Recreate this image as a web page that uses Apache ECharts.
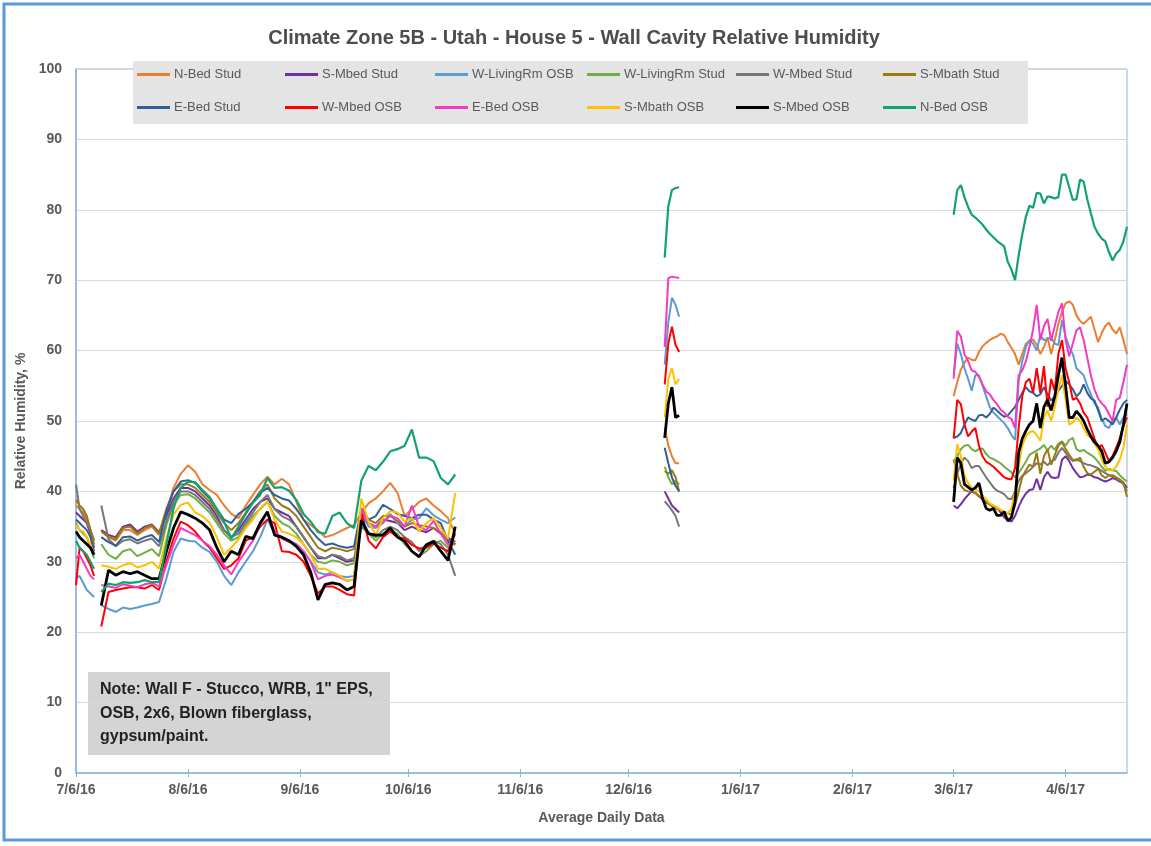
<!DOCTYPE html>
<html>
<head>
<meta charset="utf-8">
<script src="https://cdn.jsdelivr.net/npm/echarts@6/dist/echarts.min.js"></script>
<style>
  html, body { margin: 0; padding: 0; background: #ffffff; }
  #chart { width: 1151px; height: 846px; }
</style>
</head>
<body>
<div id="chart"></div>
<script>
// Logging periods: day offset from 7/6/16 of the first reading, and spacing of readings (days)
const PERIOD_START = [0, 7, 163, 243];
const PERIOD_STEP = [1, 2, 1, 1];

// X-axis tick positions (days from 7/6/16) and their labels
const TICK_DAYS = [0, 31, 62, 92, 123, 153, 184, 215, 243, 274];
const TICK_LABELS = ['7/6/16', '8/6/16', '9/6/16', '10/6/16', '11/6/16', '12/6/16', '1/6/17', '2/6/17', '3/6/17', '4/6/17'];
const LAST_DAY = 291;

const SERIES_NAMES = ['N-Bed Stud', 'S-Mbed Stud', 'W-LivingRm OSB', 'W-LivingRm Stud', 'W-Mbed Stud', 'S-Mbath Stud',
  'E-Bed Stud', 'W-Mbed OSB', 'E-Bed OSB', 'S-Mbath OSB', 'S-Mbed OSB', 'N-Bed OSB'];

// Relative humidity (%) per sensor, one list per logging period
const N_BED_STUD = [
  [38, 37.5, 37, 36, 34.5, 33],
  [34.5, 33.5, 33, 34.5, 34.5, 33.8, 34.5, 35, 33.8, 37, 40.5, 42.5, 43.7, 42.8, 41, 40.2, 39.5, 38, 36.8, 36.2, 38, 39.5, 41, 42.1, 41, 41.8, 41, 38.5, 36, 35.2, 34.5, 33.5, 33.8, 34.3, 34.8, 35.2, 37, 38.3, 39, 40, 41.2, 39.8, 36.5, 37.5, 38.5, 39, 38, 37.2, 36.2, 34],
  [49, 46.5, 45, 44, 44],
  [53.5, 55.5, 57.3, 58.3, 59, 58.7, 58.6, 59.8, 60.6, 61.1, 61.5, 61.8, 62, 62.4, 62.2, 61.2, 60.4, 59.5, 58, 59.5, 61, 61.3, 61.6, 60.8, 59.5, 60.5, 61.9, 59.5, 61.5, 63.8, 65.5, 66.7, 67, 66.5, 65, 64.2, 63.8, 64.3, 64.8, 63, 61.2, 62.5, 63.5, 64, 63, 62.4, 63.3, 61.5, 59.5]
];
const S_MBED_STUD = [
  [37, 36.5, 36, 35.5, 34, 32],
  [34.5, 33.8, 33.5, 35, 35.3, 34.3, 35, 35.3, 34.2, 36.5, 39, 40.5, 40.5, 40, 39, 38, 36.5, 34.5, 33.5, 34.5, 36, 37.5, 38.5, 39, 37.5, 37, 36.5, 35, 33.5, 32, 30.5, 30.5, 31, 30.5, 30, 30.2, 36, 35.5, 35, 36, 35.8, 35.5, 34.5, 35, 34.5, 34.2, 34.8, 34, 33.5, 32.5],
  [40, 39, 38, 37.5, 37],
  [38, 37.6, 38.2, 38.9, 39.5, 40, 39.8, 39.3, 38.9, 38.4, 38.2, 37.9, 37.7, 37, 36.3, 36, 35.7, 36.5, 37.8, 38.9, 39.7, 40.2, 40.3, 41.8, 40.2, 42, 42.8, 42, 41.9, 42, 44.5, 45, 44.3, 43.3, 42.6, 42, 42.1, 42.4, 42.3, 42, 41.9, 41.6, 41.4, 41.6, 41.9, 41.7, 41.4, 41.2, 40.5]
];
const W_LIVINGRM_OSB = [
  [27.6, 28, 27, 26, 25.5, 25],
  [23.8, 23.3, 22.9, 23.5, 23.3, 23.5, 23.8, 24, 24.3, 27.6, 31.4, 33.3, 33, 32.9, 32, 31.4, 30, 28, 26.7, 28.5, 30, 31.5, 33.5, 36, 34, 33.5, 33, 32.5, 31.5, 30, 28.5, 28.2, 28.5, 28, 27.8, 28, 37, 35, 34.8, 35.5, 36.8, 35.5, 35, 36, 36.2, 37.6, 36.6, 36, 35.5, 36.3],
  [58, 64, 67.5, 66.5, 64.8],
  [56.5, 61, 59.5, 57.5, 56, 54.3, 56.5, 56.5, 55, 53.5, 52, 51.2, 50.7, 50.2, 49.7, 49, 48, 47.3, 55.7, 58.5, 60.5, 61.5, 61, 60, 62.2, 61.5, 61.6, 61.9, 61, 60.8, 64.3, 62, 60.5, 59.5, 57.5, 57, 56.5, 55, 53.8, 52.5, 51.9, 50.3, 49.3, 49, 50, 50.5, 49.5, 50.5, 51]
];
const W_LIVINGRM_STUD = [
  [35.5, 34.5, 34, 33.5, 32, 30.5],
  [32.5, 31, 30.4, 31.5, 31.8, 30.8, 31.3, 31.8, 30.8, 35.2, 38.1, 39.5, 39.6, 39, 38, 37, 35.5, 34, 33, 33.5, 35, 36.5, 37.5, 38.5, 36.5, 35.5, 35, 34, 32.5, 31, 30, 29.8, 30.2, 30, 29.5, 29.8, 35.5, 34, 33, 34, 34.5, 34, 32.5, 31.5, 30.8, 31.5, 32.5, 33, 32, 33],
  [43.5, 42, 41, 41.5, 41],
  [44.3, 45, 46, 46.5, 46.6, 46, 45.7, 46, 46.1, 45.3, 44.8, 44.6, 44.3, 44, 43.5, 43.1, 42.7, 42, 42.6, 43.4, 44.2, 45.2, 45.5, 45.8, 46.1, 46.6, 45.8, 46.5, 45.9, 46.8, 47.1, 46.5, 47.3, 47.6, 46, 45.7, 45.9, 45.5, 45.2, 44.8, 44.2, 43.5, 42.9, 43.2, 43, 42.9, 42.3, 41.8, 41.4]
];
const W_MBED_STUD = [
  [41, 37.5, 36.5, 35.5, 34.5, 33],
  [38, 33.2, 32.2, 33, 33.2, 32.6, 33, 33.3, 32.2, 35.7, 38.6, 40, 40, 39.5, 38.5, 37.5, 36, 34.5, 33.5, 34, 35.5, 37, 38.5, 39.5, 37.5, 36.5, 36, 35, 33.5, 32, 30.8, 30.5, 31, 30.8, 30.2, 30.5, 35, 34, 33.5, 34.5, 35, 34.5, 33.5, 32.8, 31.5, 32.5, 33, 32.5, 31, 28],
  [38.6, 38, 37.3, 36.5, 35],
  [40.5, 42.5, 44, 44.8, 44.3, 43.3, 43.6, 43.6, 42.8, 42, 41.3, 40.6, 40.1, 39.9, 39.6, 39, 38.9, 40, 41.5, 42.2, 42.6, 43, 43.5, 44, 43.8, 44.2, 43.7, 44.3, 44.5, 45.5, 46.2, 45.5, 44.8, 44.3, 44.6, 44.3, 44, 43.8, 43.7, 43.5, 43.3, 42.9, 42.6, 42.3, 42.1, 41.9, 41.6, 41, 40]
];
const S_MBATH_STUD = [
  [38.8, 38, 37.5, 36.5, 34.5, 32.5],
  [34.3, 33.5, 33.2, 34.8, 35, 34, 34.8, 35.2, 34, 37.5, 40, 41, 41, 40.5, 39.5, 38.5, 37, 35.5, 34.5, 35.5, 37, 38.5, 40, 41, 39, 38, 37.5, 36.5, 35, 33.5, 32, 31.5, 32, 31.8, 31.5, 31.8, 37, 36, 35.5, 36.5, 36.5, 35.8, 35, 35.5, 35.2, 35, 34.8, 34.2, 33, 32.4],
  [42.9, 42.5, 43, 42, 40],
  [44.5, 42.5, 40.8, 40.2, 40, 39.9, 39.8, 39.3, 38.9, 38.5, 38.1, 37.8, 37.5, 37.3, 37.1, 36.9, 36.7, 38, 40, 42, 43, 43.8, 43.5, 45.5, 42.5, 45, 46, 43.8, 45.2, 46.5, 47, 46, 45.2, 44.5, 44.4, 44.8, 43.5, 42.6, 42.4, 42.8, 43.2, 42.3, 41.9, 42.3, 42.3, 42, 41.7, 41.3, 39.2]
];
const E_BED_STUD = [
  [36, 35.5, 35, 34.5, 33.5, 31.5],
  [33.5, 32.8, 32.3, 33.5, 33.6, 33, 33.5, 33.8, 32.8, 37.1, 40, 41.4, 41.6, 41.2, 40, 39, 37.5, 36, 35.5, 36.8, 37.5, 38.5, 39.8, 40.5, 39.5, 39, 38.7, 37.5, 36, 34.5, 33.3, 32.4, 32.6, 32.2, 32, 32.2, 37.6, 36, 36.5, 38.1, 37.5, 36.8, 36.5, 36.2, 36.7, 36.7, 36, 35.5, 33, 31],
  [46.2, 44, 42, 40.8, 40],
  [47.6, 47.8, 48.3, 49.5, 50.5, 50.2, 50, 50.8, 50.9, 50.5, 51, 51.9, 51.5, 51, 50.6, 50.8, 51.4, 52, 53, 54, 54.8, 54.2, 54, 53.5, 53.8, 54.8, 53.8, 52.9, 53.5, 54.3, 55, 55.7, 55.2, 54.5, 53.5, 54, 55.2, 54, 53.2, 52.9, 51.5, 50, 50.4, 50, 49.5, 50.5, 51.6, 52.5, 53]
];
const W_MBED_OSB = [
  [26.7, 32, 31.5, 30.5, 29.5, 28],
  [20.8, 25.7, 26, 26.2, 26.4, 26.4, 26.2, 26.7, 26, 30, 33.3, 35.7, 35.2, 34.3, 33, 32, 30.5, 29, 29.5, 30.5, 33, 33.5, 35, 36, 35.5, 31.5, 31.4, 31, 30, 28, 25.5, 26.5, 26.5, 26, 25.4, 25.2, 37.1, 33, 31.9, 33.5, 34.3, 33.5, 33.3, 32.4, 31.9, 32, 32.6, 32, 31.5, 34],
  [55.2, 61, 63.4, 60.8, 59.8],
  [47.5, 53, 52.4, 49.5, 47.8, 48.5, 49, 46.5, 45, 44.2, 43.9, 43.5, 43, 42.5, 42, 41.8, 41.7, 43.3, 49, 53.5, 55.5, 56, 54, 57.5, 54, 57.8, 52, 56, 54.3, 59.5, 61.5, 57.5, 55.5, 53, 53.3, 52.5, 51.2, 50.5, 49, 47.5, 46.2, 46.6, 45.5, 44.3, 45, 46.2, 47.5, 49.2, 50.5]
];
const E_BED_OSB = [
  [30.5, 31, 30, 29, 28, 27.5],
  [26.7, 26.5, 26.3, 26.8, 26.6, 26.4, 26.8, 27, 26.5, 29.5, 32.4, 34.8, 34.3, 33.8, 33, 32.2, 31, 29.5, 28.2, 30, 31.5, 33, 35.2, 37.1, 34.3, 33.3, 32.8, 32.5, 31.5, 30, 27.5, 28, 28.2, 27.8, 27.3, 27.5, 37.5, 35.5, 35, 35.7, 36.5, 36.2, 35, 38, 35, 34.5, 35.8, 34, 32.4, 33],
  [60.5, 70.3, 70.5, 70.4, 70.3],
  [56, 62.8, 62, 59.5, 58.5, 57.2, 57, 56.3, 55.2, 54.2, 53.8, 53, 52.4, 51.6, 51.2, 50.6, 50.3, 49, 56.5, 57.2, 58.5, 60.5, 63, 66.5, 61.5, 63.5, 64.5, 61.4, 63.5, 65.5, 66.7, 61.5, 59.2, 61, 62.9, 63.3, 61.5, 59, 56.5, 54.5, 53.2, 52.5, 52, 51, 50, 53, 53.3, 55.5, 58]
];
const S_MBATH_OSB = [
  [35.2, 34.5, 34.3, 33.5, 32.5, 31],
  [29.5, 29.3, 29, 29.5, 29.8, 29.2, 29.5, 30, 29, 33.3, 36.7, 38.1, 38.4, 37, 36.5, 35.5, 33.5, 31, 32, 33.2, 34.8, 36, 37.6, 38.6, 36, 34.3, 34, 33.5, 32.5, 31, 29, 29, 28.5, 28, 27.3, 27.5, 39, 35.7, 33.8, 36.2, 37.2, 37, 35.7, 36.2, 34.3, 35.5, 36.2, 34.8, 33.3, 39.8],
  [50.5, 56, 57.5, 55.2, 56],
  [41.5, 46.7, 45, 42.2, 41.2, 40.5, 40.3, 40, 39.4, 38.9, 38.3, 38, 37.7, 37.4, 37.1, 36.9, 37.5, 40, 43.5, 46.5, 47.8, 48.4, 48.6, 48, 47.2, 50.5, 51.5, 50, 52, 54.5, 56.5, 53, 49.5, 49.8, 50.5, 50, 49, 48, 47.6, 46.8, 46, 44.5, 43.5, 43, 43, 43.5, 44.5, 46.2, 49.5]
];
const S_MBED_OSB = [
  [34.3, 33.5, 33, 32.5, 32, 31],
  [23.8, 28.8, 28.1, 28.6, 28.3, 28.6, 28.1, 27.6, 27.6, 31.4, 34.8, 37.1, 36.7, 36.2, 35.5, 34.5, 32, 30, 31.5, 31, 33.6, 33.3, 35.5, 37.1, 33.8, 33.5, 33, 32.2, 31, 28.5, 24.6, 26.8, 27, 26.8, 26, 26.5, 35.9, 34, 33.8, 33.8, 34.8, 33.5, 32.9, 31.5, 30.7, 32.4, 32.9, 31.5, 30.2, 35],
  [47.6, 52.5, 54.8, 50.5, 50.8],
  [38.5, 44.8, 44, 41, 40.6, 40.2, 40.5, 41.2, 39, 37.6, 37.3, 37.6, 36.6, 36.6, 37.1, 35.8, 36.3, 38.5, 45.5, 47.5, 48.6, 49.5, 50, 52.5, 49, 52, 53, 51.5, 53.5, 56.5, 59, 55, 50.5, 50.5, 51.4, 50.8, 50, 48.8, 47.8, 47, 46.5, 45.7, 44, 44.2, 44.8, 45.7, 47, 49.5, 52.5]
];
const N_BED_OSB = [
  [33, 32, 31.5, 31, 30, 29],
  [25.7, 26.9, 26.7, 27.1, 27, 27.1, 27.4, 27.1, 27.1, 32.4, 37.6, 40.5, 41.4, 41.3, 40.2, 39.2, 37.5, 35.7, 33.3, 35, 36.8, 38.4, 39.5, 41.9, 40.5, 40.6, 40.1, 38.8, 36.8, 35.7, 34.2, 34, 36.5, 37, 35.5, 34.8, 41.5, 43.6, 43, 44.2, 45.7, 46, 46.5, 48.8, 44.8, 44.8, 44.3, 41.9, 41, 42.4],
  [73.2, 80.5, 82.8, 83.1, 83.2],
  [79.3, 82.8, 83.5, 81.8, 80.4, 79.3, 78.9, 78.4, 77.9, 77.2, 76.6, 76.1, 75.6, 75.2, 74.8, 72.6, 71.5, 70, 73.5, 76.5, 79, 80.6, 80.3, 82.4, 82.3, 80.9, 81.9, 81.8, 81.6, 81.8, 85, 85, 83.2, 81.4, 81.5, 84.3, 84, 81.5, 79.5, 77.6, 76.6, 75.9, 75.5, 74, 72.8, 73.8, 74.3, 75.5, 77.6]
];

const SERIES_VALUES = [N_BED_STUD, S_MBED_STUD, W_LIVINGRM_OSB, W_LIVINGRM_STUD, W_MBED_STUD, S_MBATH_STUD,
  E_BED_STUD, W_MBED_OSB, E_BED_OSB, S_MBATH_OSB, S_MBED_OSB, N_BED_OSB];

// Line colours and widths, in the same order as the sensors
const COLORS = ['#ED7D31', '#7030A0', '#5B9BD5', '#70AD47', '#777777', '#9C7A12',
  '#2F5F98', '#FF0000', '#F23BC3', '#FFC000', '#000000', '#12A36C'];
const WIDTHS = [2, 2, 2, 2, 2, 2, 2, 2, 2, 2, 2.8, 2.2];

// Turn the period lists into [day, value] points, with a break between periods
function toPoints(periods) {
  const pts = [];
  periods.forEach((vals, k) => {
    vals.forEach((v, i) => pts.push([PERIOD_START[k] + i * PERIOD_STEP[k], v]));
    const last = PERIOD_START[k] + (vals.length - 1) * PERIOD_STEP[k];
    pts.push([last + 0.5, null]);
  });
  return pts;
}

const FONT = "'Liberation Sans', Arial, sans-serif";
const TEXT_GREY = '#595959';
const AXIS_BLUE = '#8DB3E0';

const series = SERIES_NAMES.map((name, i) => ({
  name,
  type: 'line',
  data: toPoints(SERIES_VALUES[i]),
  showSymbol: false,
  connectNulls: false,
  lineStyle: { color: COLORS[i], width: WIDTHS[i] },
  itemStyle: { color: COLORS[i] },
  z: 2 + i
}));

// Legend laid out as a 6 x 2 table of single-entry legends
const LEGEND_COL_X = [137, 285, 435, 587, 736, 883];
const LEGEND_ROW_Y = [68, 101];
const legends = SERIES_NAMES.map((name, i) => ({
  data: [name],
  left: LEGEND_COL_X[i % 6],
  top: LEGEND_ROW_Y[Math.floor(i / 6)],
  padding: 0,
  itemWidth: 33,
  itemHeight: 3,
  icon: 'rect',
  selectedMode: false,
  z: 20,
  textStyle: { color: TEXT_GREY, fontSize: 13, fontFamily: FONT, padding: [0, 0, 0, -1] }
}));

const chart = echarts.init(document.getElementById('chart'), null, { renderer: 'canvas' });

chart.setOption({
  animation: false,
  backgroundColor: '#ffffff',
  title: {
    text: 'Climate Zone 5B - Utah - House 5 - Wall Cavity Relative Humidity',
    left: 569,
    textAlign: 'center',
    top: 23,
    textStyle: { color: '#4D4D4D', fontSize: 20, fontWeight: 'bold', fontFamily: FONT }
  },
  legend: legends,
  grid: {
    left: 76, right: 24, top: 69, bottom: 73,
    show: true, borderColor: AXIS_BLUE, borderWidth: 1, backgroundColor: 'transparent'
  },
  xAxis: [
    {
      type: 'value', min: 0, max: LAST_DAY, position: 'bottom',
      name: 'Average Daily Data', nameLocation: 'middle', nameGap: 38,
      nameTextStyle: { color: TEXT_GREY, fontSize: 14, fontWeight: 'bold', fontFamily: FONT },
      axisLine: { show: true, lineStyle: { color: AXIS_BLUE, width: 1.5 } },
      axisTick: { show: true, customValues: TICK_DAYS, length: 4, lineStyle: { color: AXIS_BLUE } },
      axisLabel: {
        customValues: TICK_DAYS,
        formatter: v => TICK_LABELS[TICK_DAYS.indexOf(v)] || '',
        color: TEXT_GREY, fontSize: 14, fontWeight: 'bold', fontFamily: FONT, margin: 10
      },
      splitLine: { show: false }
    },
    {
      type: 'value', min: 0, max: LAST_DAY, position: 'bottom',
      axisLine: { show: false },
      axisTick: { show: true, inside: true, customValues: TICK_DAYS, length: 4, lineStyle: { color: AXIS_BLUE } },
      axisLabel: { show: false },
      splitLine: { show: false }
    }
  ],
  yAxis: {
    type: 'value', min: 0, max: 100, interval: 10,
    name: 'Relative Humidity, %', nameLocation: 'middle', nameGap: 47, nameRotate: 90,
    nameTextStyle: { color: TEXT_GREY, fontSize: 14, fontWeight: 'bold', fontFamily: FONT },
    axisLine: { show: true, lineStyle: { color: AXIS_BLUE, width: 1.5 } },
    axisTick: { show: false },
    axisLabel: { color: TEXT_GREY, fontSize: 14, fontWeight: 'bold', fontFamily: FONT, margin: 14 },
    splitLine: { show: true, lineStyle: { color: '#D9D9D9', width: 1 } }
  },
  graphic: [
    {
      // outer frame of the chart
      type: 'rect', silent: true, z: 30,
      shape: { x: 4, y: 4, width: 1170, height: 836 },
      style: { fill: 'none', stroke: '#5B9BD5', lineWidth: 3 }
    },
    {
      // legend panel
      type: 'rect', silent: true, z: 10,
      shape: { x: 133, y: 61, width: 895, height: 63 },
      style: { fill: '#E4E4E4' }
    },
    {
      // wall assembly note
      type: 'group', z: 10, silent: true,
      children: [
        { type: 'rect', shape: { x: 88, y: 672, width: 302, height: 83 }, style: { fill: '#D4D4D4' } },
        {
          type: 'text', x: 100, y: 678,
          style: {
            text: 'Note: Wall F - Stucco, WRB, 1" EPS,\nOSB, 2x6, Blown fiberglass,\ngypsum/paint.',
            fill: '#222222', font: "bold 16px 'Liberation Sans', Arial, sans-serif", lineHeight: 23.5
          }
        }
      ]
    }
  ],
  series
});
</script>
</body>
</html>
